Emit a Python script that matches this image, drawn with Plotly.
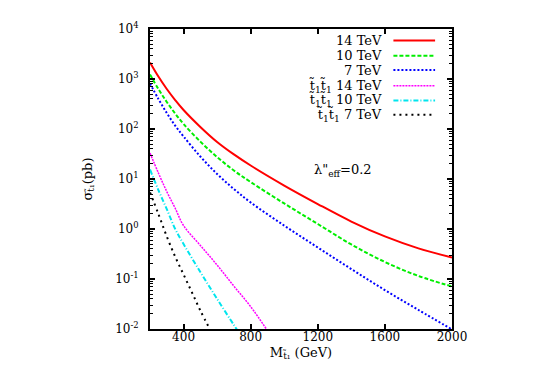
import plotly.graph_objects as go

# stop mass (GeV) and cross sections (pb)
mass_14 = [200, 250, 300, 350, 400, 500, 600, 700, 800, 1000, 1200, 1400, 1600, 1800, 2000]
sigma_14 = [2140, 1120, 631, 380, 240, 110, 55, 31, 18.6, 7.4, 3.16, 1.41, 0.71, 0.41, 0.27]

mass_10 = [200, 250, 300, 350, 400, 500, 600, 700, 800, 1000, 1200, 1400, 1600, 1800, 2000]
sigma_10 = [1230, 631, 347, 204, 126, 56, 27.5, 14.8, 8.7, 3.24, 1.26, 0.49, 0.219, 0.115, 0.071]

mass_7 = [200, 250, 300, 350, 400, 500, 600, 700, 800, 1000, 1200, 1400, 1600, 1800, 2000]
sigma_7 = [813, 398, 209, 117, 71, 28.2, 12.6, 6.3, 3.4, 1.17, 0.427, 0.158, 0.060, 0.024, 0.0098]

mass_pair14 = [200, 250, 300, 350, 400, 500, 600, 700, 800, 900]
sigma_pair14 = [33, 13.2, 5.6, 2.6, 1.17, 0.47, 0.19, 0.072, 0.028, 0.0093]

mass_pair10 = [200, 250, 300, 350, 400, 500, 600, 700, 720]
sigma_pair10 = [15.5, 6.0, 2.5, 1.0, 0.5, 0.138, 0.040, 0.012, 0.0095]

mass_pair7 = [200, 250, 300, 350, 400, 450, 500, 560]
sigma_pair7 = [5.4, 2.0, 0.71, 0.28, 0.123, 0.054, 0.0234, 0.0095]

x_ticks = [400, 800, 1200, 1600, 2000]
y_ticks = [0.01, 0.1, 1, 10, 100, 1000, 10000]
y_ticktext = ["10<sup>-2</sup>", "10<sup>-1</sup>", "10<sup>0</sup>", "10<sup>1</sup>",
              "10<sup>2</sup>", "10<sup>3</sup>", "10<sup>4</sup>"]

TT = "t\u0303<sub>1</sub>t\u0303<sub>1</sub>"
series = [
    ("14 TeV", mass_14, sigma_14, "#ff0000", "solid", 2),
    ("10 TeV", mass_10, sigma_10, "#00ee00", "4px,2px", 2),
    ("7 TeV", mass_7, sigma_7, "#0000ff", "2px,2px", 2),
    (TT + " 14 TeV", mass_pair14, sigma_pair14, "#ff00ff", "2px,1px", 1.5),
    (TT + " 10 TeV", mass_pair10, sigma_pair10, "#00e5ee", "5px,2px,1px,2px", 2),
    (TT + " 7 TeV", mass_pair7, sigma_pair7, "#000000", "2px,4px", 2),
]

FONT = "DejaVu Serif"
fig = go.Figure()

# gnuplot-style key: label on the left, line sample on the right
key_rows = [0.962, 0.911, 0.863, 0.811, 0.762, 0.714]
for (name, xs, ys, color, dash, width), ky in zip(series, key_rows):
    fig.add_trace(go.Scatter(
        x=xs, y=ys, mode="lines", name=name, showlegend=False,
        line=dict(color=color, dash=dash, width=width, shape="spline"),
    ))
    fig.add_annotation(
        x=0.775, y=ky, xref="paper", yref="paper", text=name, showarrow=False,
        xanchor="right", yanchor="middle", font=dict(family=FONT, size=13, color="black"),
    )
    fig.add_shape(
        type="line", xref="paper", yref="paper", x0=0.806, x1=0.944, y0=ky, y1=ky,
        line=dict(color=color, dash=dash, width=width),
    )

fig.add_annotation(
    x=0.64, y=0.53, xref="paper", yref="paper", showarrow=False,
    text="\u03bb\"<sub>eff</sub>=0.2", font=dict(family=FONT, size=13, color="black"),
)

axis_common = dict(
    showline=True, linecolor="black", linewidth=2, mirror="ticks",
    ticks="inside", ticklen=5, tickwidth=1.5, tickcolor="black",
    showgrid=False, zeroline=False,
    tickfont=dict(family=FONT, size=12, color="black"),
)

fig.update_xaxes(
    range=[200, 2000], tickvals=x_ticks, ticklabelstandoff=-4,
    title=dict(text="M<sub>t\u0303\u2081</sub> (GeV)", font=dict(family=FONT, size=13, color="black"),
               standoff=4),
    **axis_common,
)
fig.update_yaxes(
    type="log", range=[-2, 4], tickvals=y_ticks, ticktext=y_ticktext, ticklabelstandoff=7,
    minor=dict(ticks="inside", ticklen=3, tickwidth=1, tickcolor="black", dtick="D1"),
    title=dict(text="\u03c3<sub>t\u0303\u2081</sub>(pb)", font=dict(family=FONT, size=13, color="black"),
               standoff=20),
    **axis_common,
)

fig.update_layout(
    width=545, height=382,
    margin=dict(l=142, r=101, t=18, b=61),
    plot_bgcolor="white", paper_bgcolor="white",
    showlegend=False,
)

fig.write_html("out.html")
